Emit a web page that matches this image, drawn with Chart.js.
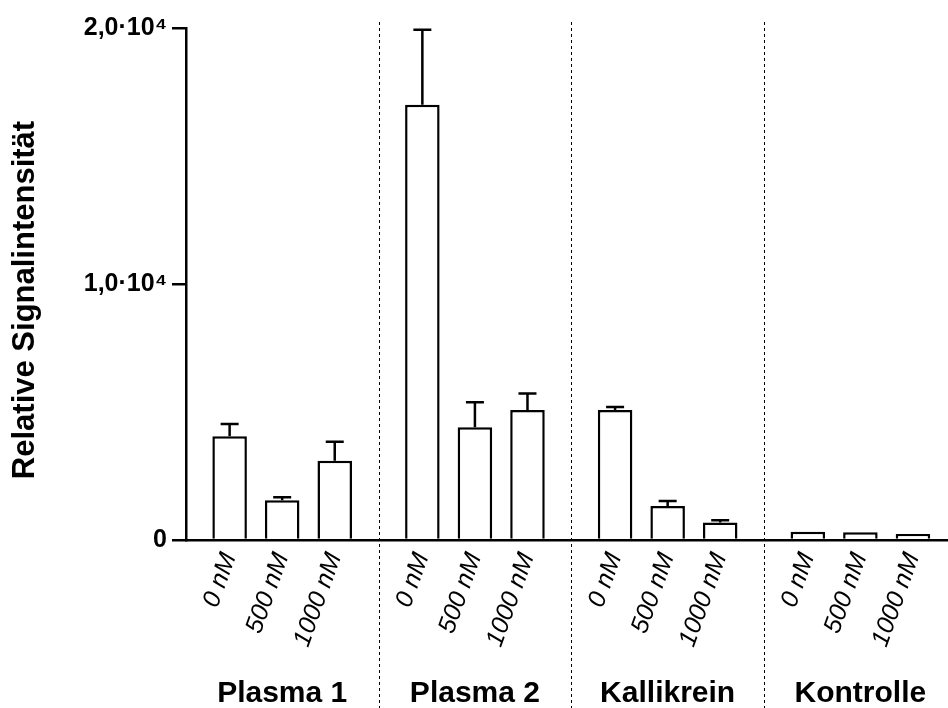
<!DOCTYPE html>
<html><head><meta charset="utf-8">
<script src="https://cdn.jsdelivr.net/npm/chart.js@4/dist/chart.umd.min.js"></script>
<style>html,body{margin:0;padding:0;background:#fff}#wrap{width:948px;height:708px}</style>
</head><body><div id="wrap"><canvas id="c" width="948" height="708"></canvas></div>
<script>
const groups = ['Plasma 1', 'Plasma 2', 'Kallikrein', 'Kontrolle'];
const concentrations = ['0 nM', '500 nM', '1000 nM'];
const meanValues = [4050, 1550, 3100, 17000, 4400, 5080, 5080, 1330, 680, 325, 300, 235];
const errorValues = [480, 120, 740, 2930, 980, 640, 120, 195, 90, 0, 0, 0];
const yTickValues = [0, 10000, 20000];
const yTickLabels = ['0', '1,0·10⁴', '2,0·10⁴'];
const yTitle = 'Relative Signalintensität';
const groupGap = 1.667;

const FONT = '"Liberation Sans", Arial, Helvetica, sans-serif';
const perGroup = concentrations.length;
const xPos = meanValues.map((_, k) => Math.floor(k / perGroup) * (perGroup - 1 + groupGap) + (k % perGroup));
const groupCenters = groups.map((_, g) => (xPos[g * perGroup] + xPos[g * perGroup + perGroup - 1]) / 2);
const separators = groups.slice(1).map((_, g) => (xPos[g * perGroup + perGroup - 1] + xPos[(g + 1) * perGroup]) / 2);
const xMin = xPos[0] - 0.83;
const xMax = xPos[xPos.length - 1] + 0.667;

const errorBars = {
  id: 'errorBars',
  afterDatasetsDraw(chart) {
    const {ctx, scales: {x, y}} = chart;
    ctx.save();
    ctx.strokeStyle = '#000';
    ctx.lineWidth = 2.5;
    meanValues.forEach((v, k) => {
      const e = errorValues[k];
      if (!e) return;
      const px = x.getPixelForValue(xPos[k]);
      const y0 = y.getPixelForValue(v);
      const y1 = y.getPixelForValue(v + e);
      ctx.beginPath();
      ctx.moveTo(px, y0); ctx.lineTo(px, y1);
      ctx.moveTo(px - 9, y1); ctx.lineTo(px + 9, y1);
      ctx.stroke();
    });
    ctx.restore();
  }
};

const separatorLines = {
  id: 'separatorLines',
  afterDraw(chart) {
    const {ctx, scales: {x}} = chart;
    ctx.save();
    ctx.strokeStyle = '#000';
    ctx.lineWidth = 1;
    ctx.setLineDash([3, 3]);
    separators.forEach(s => {
      const px = Math.round(x.getPixelForValue(s)) + 0.5;
      ctx.beginPath();
      ctx.moveTo(px, chart.chartArea.top - 6);
      ctx.lineTo(px, chart.height);
      ctx.stroke();
    });
    ctx.restore();
  }
};

const yTitlePlugin = {
  id: 'yTitlePlugin',
  afterDraw(chart) {
    const {ctx} = chart;
    ctx.save();
    ctx.translate(25, 300);
    ctx.rotate(-Math.PI / 2);
    ctx.fillStyle = '#000';
    ctx.font = 'bold 31px ' + FONT;
    ctx.textAlign = 'center';
    ctx.textBaseline = 'middle';
    ctx.fillText(yTitle, 0, 0);
    ctx.restore();
  }
};

new Chart(document.getElementById('c'), {
  type: 'bar',
  data: {
    datasets: [{
      data: meanValues.map((v, k) => ({x: xPos[k], y: v})),
      backgroundColor: '#ffffff',
      borderColor: '#000000',
      borderWidth: 2.5,
      barPercentage: 0.657,
      categoryPercentage: 1,
      xAxisID: 'x',
      yAxisID: 'y'
    }]
  },
  options: {
    responsive: false,
    animation: false,
    devicePixelRatio: 1,
    layout: {padding: {top: 28, left: 0, right: 0, bottom: 0}},
    plugins: {legend: {display: false}, tooltip: {enabled: false}},
    scales: {
      x: {
        type: 'linear', position: 'bottom', min: xMin, max: xMax, offset: false,
        grid: {display: false, drawTicks: false},
        border: {display: true, color: '#000', width: 2.5},
        afterBuildTicks: s => { s.ticks = xPos.map(v => ({value: v})); },
        ticks: {
          autoSkip: false, maxRotation: 70, minRotation: 70, padding: 9, color: '#000',
          font: {family: FONT, size: 25, style: 'italic'},
          callback: (v, i) => concentrations[i % perGroup]
        },
        afterFit: s => { s.height = 120; s.paddingLeft = 0; s.paddingRight = 0; }
      },
      g: {
        type: 'linear', position: 'bottom', min: xMin, max: xMax, offset: false,
        grid: {display: false, drawTicks: false},
        border: {display: false},
        afterBuildTicks: s => { s.ticks = groupCenters.map(v => ({value: v})); },
        ticks: {
          autoSkip: false, maxRotation: 0, minRotation: 0, padding: 16, color: '#000',
          font: {family: FONT, size: 30, weight: 'bold'},
          callback: (v, i) => groups[i]
        },
        afterFit: s => { s.height = 48; s.paddingLeft = 0; s.paddingRight = 0; }
      },
      y: {
        type: 'linear', position: 'left', min: 0, max: 20000,
        afterBuildTicks: s => { s.ticks = yTickValues.map(v => ({value: v})); },
        ticks: {
          padding: 5, color: '#000',
          font: {family: FONT, size: 25, weight: 'bold'},
          callback: (v, i) => yTickLabels[i]
        },
        grid: {display: true, drawOnChartArea: false, drawTicks: true, tickLength: 14, color: '#000', lineWidth: 2.5},
        border: {display: true, color: '#000', width: 2.5},
        afterFit: s => { s.width = 186; }
      }
    }
  },
  plugins: [errorBars, separatorLines, yTitlePlugin]
});
</script>
</body></html>
